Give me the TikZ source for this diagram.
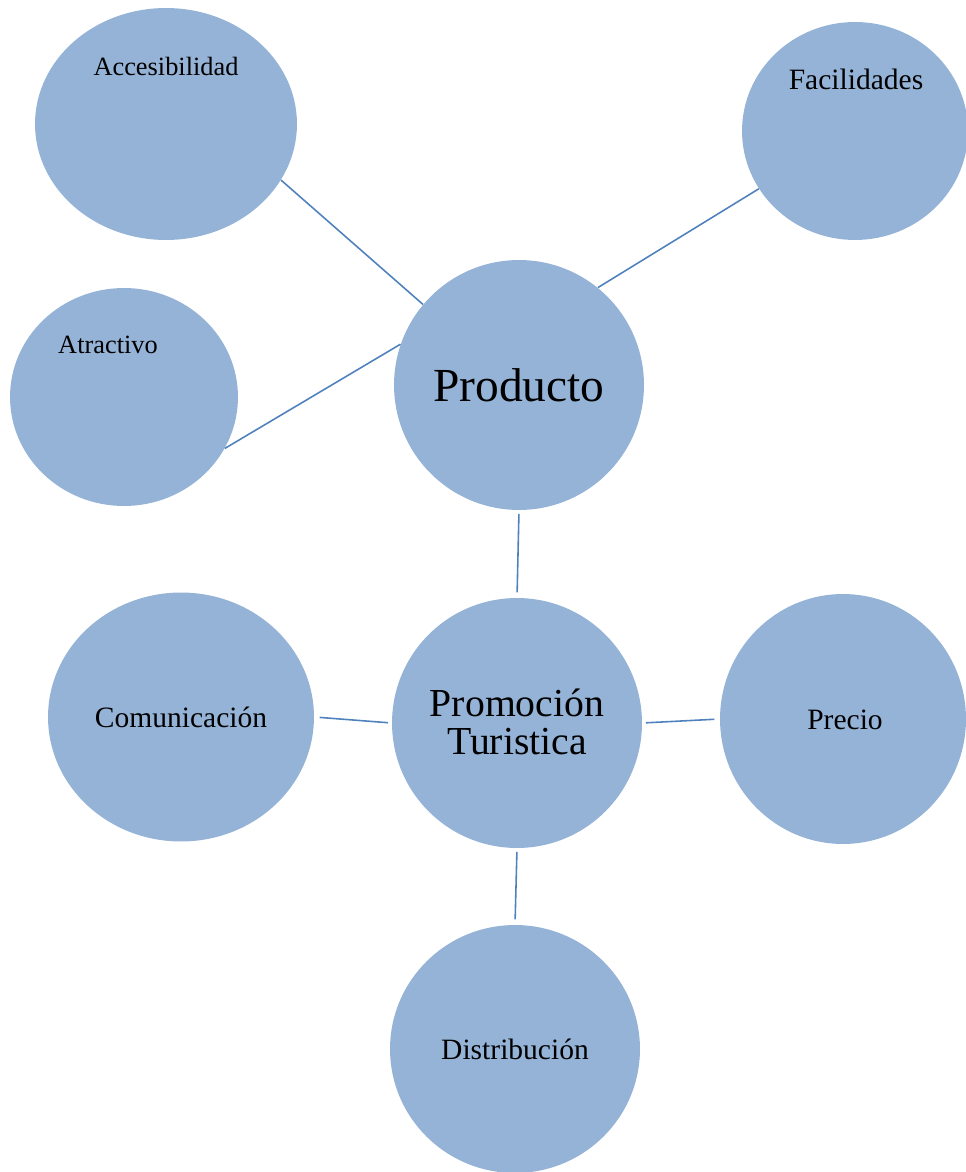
\documentclass[tikz,border=0pt]{standalone}
\usepackage{fontspec}
\setmainfont{Liberation Serif}
\usepackage{tikz}
\usetikzlibrary{shapes.geometric}

\definecolor{bubblefill}{HTML}{95B3D7}
\definecolor{linkblue}{HTML}{4F81BD}

\tikzset{
  bubble/.style={ellipse,fill=bubblefill,draw=none,inner sep=0pt},
  small/.style={font=\fontsize{15}{17}\selectfont},
  medium/.style={font=\fontsize{16.8}{19}\selectfont},
  link/.style={-,draw=linkblue,line width=0.9pt},
  spoke/.style={link,shorten <=2pt,shorten >=3pt}
}

\begin{document}
\begin{tikzpicture}[x=0.02cm,y=-0.02cm]
\useasboundingbox (0,0) rectangle (965,1172);

  \draw (166,124) node[bubble,minimum width=5.24cm,minimum height=4.64cm] (acc) {};
  \draw (855,131) node[bubble,minimum width=4.52cm,minimum height=4.36cm] (fac) {};
  \draw (124,397) node[bubble,minimum width=4.56cm,minimum height=4.36cm] (atr) {};
  \draw (519,385) node[bubble,minimum width=5cm,minimum height=5cm] (prod) {};
  \draw (181,717) node[bubble,minimum width=5.32cm,minimum height=4.98cm] (com) {};
  \draw (517,723) node[bubble,minimum width=5cm,minimum height=5cm] (prom) {};
  \draw (843,719) node[bubble,minimum width=4.92cm,minimum height=5cm] (precio) {};
  \draw (515,1049) node[bubble,minimum width=5cm,minimum height=4.96cm] (dist) {};

  % texts
  \draw (166,66) node[small] (accText) {Accesibilidad};
  \draw (856,79) node[medium] (facText) {Facilidades};
  \draw (108,345) node[small] (atrText) {Atractivo};
  \draw (519,385) node[font=\fontsize{27}{29}\selectfont] (prodText) {Producto};
  \draw (181,717) node[medium] (comText) {Comunicación};
  \draw (517,722) node[align=center,font=\fontsize{22.6}{22}\selectfont] (promText) {Promoción\\Turistica};
  \draw (845,720) node[medium] (precioText) {Precio};
  \draw (515,1049) node[medium] (distText) {Distribución};

     \path[link] (acc.-26) edge (prod.140);
     \path[link] (fac.211) edge (prod.51);
     \path[link] (atr.-27) edge (prod.161);
     \path[spoke] (prod.south) edge (prom.north);
     \path[spoke] (prom.west) edge (com.east);
     \path[spoke] (prom.east) edge (precio.west);
     \path[spoke] (prom.south) edge (dist.north);

\end{tikzpicture}
\end{document}
